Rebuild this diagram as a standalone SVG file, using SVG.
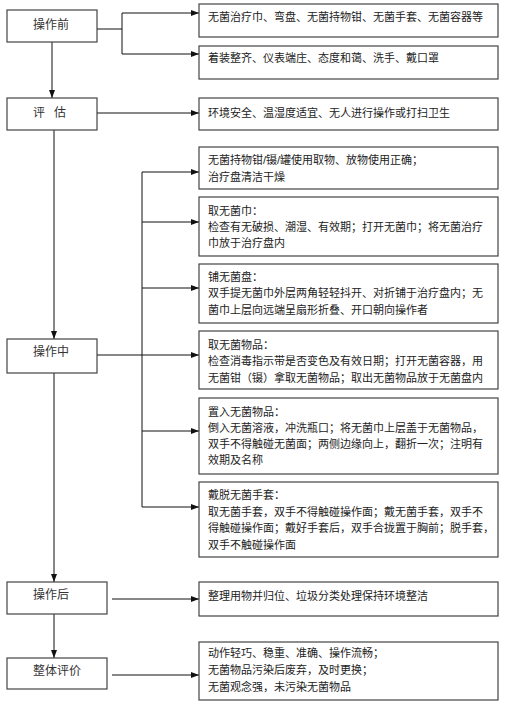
<svg xmlns="http://www.w3.org/2000/svg" width="506" height="705" viewBox="0 0 506 705">
<defs>
<marker id="arr" markerWidth="8" markerHeight="6" refX="8" refY="3" orient="auto" markerUnits="userSpaceOnUse">
<path d="M0,0 L8,3 L0,6 Z" fill="#111"/>
</marker>
<style>
.box{fill:#fff;stroke:#444;stroke-width:1.2}
.lbl{font-family:"Liberation Serif","Noto Sans CJK SC",serif;font-size:12px;fill:#333}
.txt{font-family:"Liberation Sans","Noto Sans CJK SC",sans-serif;font-size:11px;fill:#222}
.ln{fill:none;stroke:#111;stroke-width:1}
.ar{fill:none;stroke:#111;stroke-width:1;marker-end:url(#arr)}
</style>
</defs>
<rect width="506" height="705" fill="#fff"/>
<g id="connectors">
<path class="ln" d="M95,29 H122 M122,13 V54"/>
<path class="ar" d="M122,13 H199"/>
<path class="ar" d="M122,54 H199"/>
<path class="ar" d="M52,42 V98"/>
<path class="ar" d="M97,113 H199"/>
<path class="ar" d="M54,130 V339"/>
<path class="ar" d="M97,355 H199"/>
<path class="ln" d="M142,172 V507"/>
<path class="ar" d="M142,172 H199"/>
<path class="ar" d="M142,222 H199"/>
<path class="ar" d="M142,288 H199"/>
<path class="ar" d="M142,431 H199"/>
<path class="ar" d="M142,507 H199"/>
<path class="ar" d="M54,373 V582"/>
<path class="ar" d="M112,599 H199"/>
<path class="ar" d="M54,614 V658"/>
<path class="ar" d="M112,675 H199"/>
</g>
<g id="n-before">
<rect class="box" x="7" y="10" width="90" height="32"/>
<text class="lbl" x="33" y="29">操作前</text>
</g>
<g id="n-before-1">
<rect class="box" x="199" y="4" width="299" height="33"/>
<text class="txt" x="208" y="21">无菌治疗巾、弯盘、无菌持物钳、无菌手套、无菌容器等</text>
</g>
<g id="n-before-2">
<rect class="box" x="199" y="46" width="299" height="33"/>
<text class="txt" x="208" y="62">着装整齐、仪表端庄、态度和蔼、洗手、戴口罩</text>
</g>
<g id="n-assess">
<rect class="box" x="7" y="98" width="90" height="32"/>
<text class="lbl" x="33" y="117" xml:space="preserve">评   估</text>
</g>
<g id="n-assess-1">
<rect class="box" x="199" y="98" width="299" height="32"/>
<text class="txt" x="208" y="117">环境安全、温湿度适宜、无人进行操作或打扫卫生</text>
</g>
<g id="n-during">
<rect class="box" x="7" y="339" width="90" height="34"/>
<text class="lbl" x="33" y="356">操作中</text>
</g>
<g id="n-during-1">
<rect class="box" x="199" y="147" width="299" height="42"/>
<text class="txt" x="208" y="164">无菌持物钳/镊/罐使用取物、放物使用正确；</text>
<text class="txt" x="208" y="181">治疗盘清洁干燥</text>
</g>
<g id="n-during-2">
<rect class="box" x="199" y="197" width="299" height="59"/>
<text class="txt" x="208" y="215">取无菌巾：</text>
<text class="txt" x="208" y="231">检查有无破损、潮湿、有效期；打开无菌巾；将无菌治疗</text>
<text class="txt" x="208" y="247">巾放于治疗盘内</text>
</g>
<g id="n-during-3">
<rect class="box" x="199" y="264" width="299" height="59"/>
<text class="txt" x="208" y="281">铺无菌盘：</text>
<text class="txt" x="208" y="297">双手提无菌巾外层两角轻轻抖开、对折铺于治疗盘内；无</text>
<text class="txt" x="208" y="314">菌巾上层向远端呈扇形折叠、开口朝向操作者</text>
</g>
<g id="n-during-4">
<rect class="box" x="199" y="331" width="299" height="58"/>
<text class="txt" x="208" y="349">取无菌物品：</text>
<text class="txt" x="208" y="365">检查消毒指示带是否变色及有效日期；打开无菌容器，用</text>
<text class="txt" x="208" y="382">无菌钳（镊）拿取无菌物品；取出无菌物品放于无菌盘内</text>
</g>
<g id="n-during-5">
<rect class="box" x="199" y="398" width="299" height="76"/>
<text class="txt" x="208" y="416">置入无菌物品：</text>
<text class="txt" x="208" y="432">倒入无菌溶液，冲洗瓶口；将无菌巾上层盖于无菌物品，</text>
<text class="txt" x="208" y="448">双手不得触碰无菌面；两侧边缘向上，翻折一次；注明有</text>
<text class="txt" x="208" y="464">效期及名称</text>
</g>
<g id="n-during-6">
<rect class="box" x="199" y="482" width="299" height="75"/>
<text class="txt" x="208" y="499">戴脱无菌手套：</text>
<text class="txt" x="208" y="516">取无菌手套，双手不得触碰操作面；戴无菌手套，双手不</text>
<text class="txt" x="208" y="532">得触碰操作面；戴好手套后，双手合拢置于胸前；脱手套，</text>
<text class="txt" x="208" y="549">双手不触碰操作面</text>
</g>
<g id="n-after">
<rect class="box" x="7" y="582" width="100" height="32"/>
<text class="lbl" x="33" y="599">操作后</text>
</g>
<g id="n-after-1">
<rect class="box" x="199" y="582" width="299" height="34"/>
<text class="txt" x="208" y="600">整理用物并归位、垃圾分类处理保持环境整洁</text>
</g>
<g id="n-overall">
<rect class="box" x="7" y="658" width="100" height="31"/>
<text class="lbl" x="33" y="675">整体评价</text>
</g>
<g id="n-overall-1">
<rect class="box" x="199" y="642" width="299" height="58"/>
<text class="txt" x="208" y="657">动作轻巧、稳重、准确、操作流畅；</text>
<text class="txt" x="208" y="674">无菌物品污染后废弃，及时更换；</text>
<text class="txt" x="208" y="691">无菌观念强，未污染无菌物品</text>
</g>
</svg>
